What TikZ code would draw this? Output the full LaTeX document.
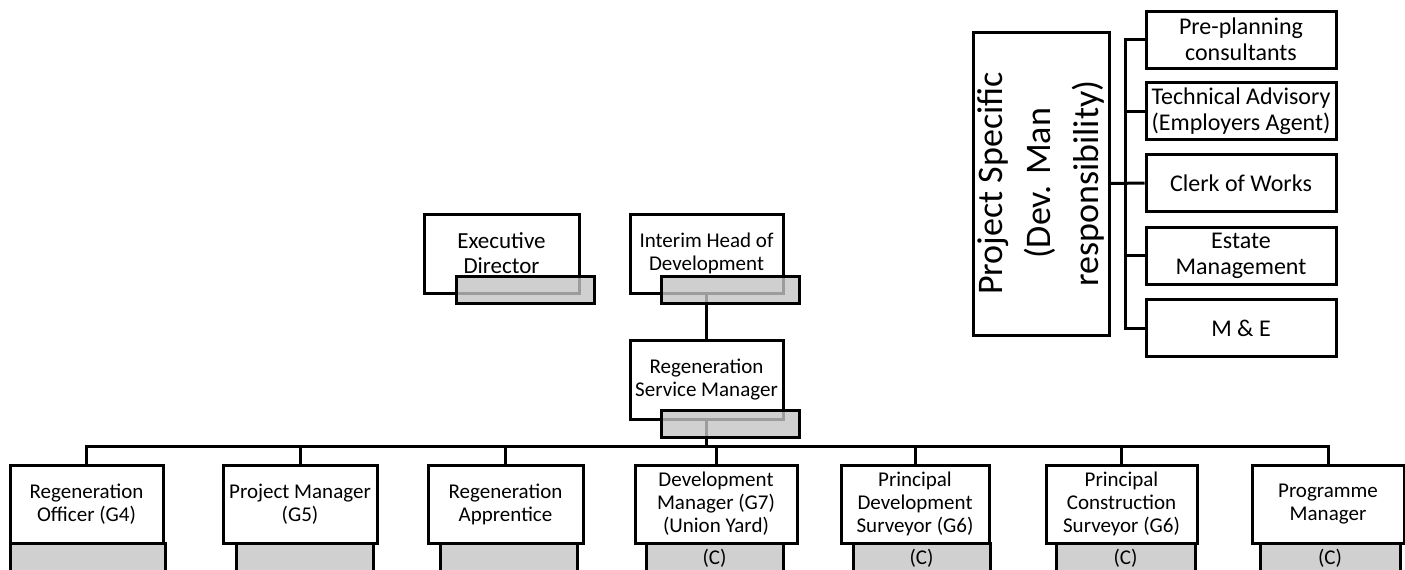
\documentclass[tikz,border=0pt]{standalone}
\usepackage{fontspec}
\setmainfont{Carlito}
\definecolor{slot}{RGB}{196,196,196}
\begin{document}
\begin{tikzpicture}[x=1pt, y=-1pt, line width=3pt,
  every node/.style={draw=black, line width=3pt, inner sep=2pt, align=center, font=\fontsize{21}{23}\selectfont},
  post/.style={fill=white, minimum height=79pt},
  tag/.style={fill=slot, fill opacity=0.8, text opacity=1, minimum height=27pt},
  side/.style={fill=white, minimum width=190pt, minimum height=57pt, font=\fontsize{24}{26}\selectfont}]
  \useasboundingbox (0,0) rectangle (1405,570);

  % top of the tree
  \node[post, minimum width=155pt, font=\fontsize{23}{25}\selectfont] (exec) at (501.5,253.5) {Executive\\Director};
  \node[post, minimum width=153pt] (head) at (706.5,253.5) {Interim Head of\\Development};
  \node[post, minimum width=153pt] (rsm) at (706.5,379.5) {Regeneration\\Service Manager};
  \draw (head) -- (rsm);
  \coordinate (bus) at (706.5,446);
  \draw (rsm.south) -- (bus);

  % team row
  \node[post, minimum width=153pt, minimum height=78pt] (b1) at (86.5,504) {Regeneration\\Officer (G4)};
  \node[post, minimum width=154pt, minimum height=78pt] (b2) at (300,504) {Project Manager\\(G5)};
  \node[post, minimum width=155pt, minimum height=78pt] (b3) at (505.5,504) {Regeneration\\Apprentice};
  \node[post, minimum width=162pt, minimum height=78pt] (b4) at (716,504) {Development\\Manager (G7)\\(Union Yard)};
  \node[post, minimum width=148pt, minimum height=78pt] (b5) at (915,504) {Principal\\Development\\Surveyor (G6)};
  \node[post, minimum width=151pt, minimum height=78pt] (b6) at (1121.5,504) {Principal\\Construction\\Surveyor (G6)};
  \node[post, minimum width=152pt, minimum height=78pt] (b7) at (1328,504) {Programme\\Manager};
  \draw (b1.north) |- (bus);
  \draw (b2.north) |- (bus);
  \draw (b3.north) |- (bus);
  \draw (b4.north) |- (bus);
  \draw (b5.north) |- (bus);
  \draw (b6.north) |- (bus);
  \draw (b7.north) |- (bus);

  \node[tag, minimum width=138pt] (texec) at (525,289.5) {};
  \node[tag, minimum width=138pt] (thead) at (730,289.5) {};
  \node[tag, minimum width=138pt] (trsm) at (730,423.5) {};
  \node[tag, minimum width=155pt, minimum height=30pt] (t1) at (87.5,558) {};
  \node[tag, minimum width=137pt, minimum height=30pt] (t2) at (304.5,558) {};
  \node[tag, minimum width=137pt, minimum height=30pt] (t3) at (508.5,558) {};
  \node[tag, minimum width=137pt, minimum height=30pt] (t4) at (714.5,558) {(C)};
  \node[tag, minimum width=137pt, minimum height=30pt] (t5) at (921.5,558) {(C)};
  \node[tag, minimum width=139pt, minimum height=30pt] (t6) at (1125.5,558) {(C)};
  \node[tag, minimum width=140pt, minimum height=30pt] (t7) at (1330,558) {(C)};

  % project specific group
  \node[fill=white, rotate=90, minimum width=303pt, minimum height=136pt, font=\fontsize{36}{48}\selectfont] (ps) at (1041,183.5) {Project Specific\\(Dev. Man\\responsibility)};
  \node[side] (pre) at (1241,39.5) {Pre-planning\\consultants};
  \node[side] (tech) at (1241,111) {Technical Advisory\\(Employers Agent)};
  \node[side] (clerk) at (1241,183) {Clerk of Works};
  \node[side] (estate) at (1241,255.5) {Estate\\Management};
  \node[side] (me) at (1241,328) {M \& E};
  \draw (pre.west) -- ++(-19,0) |- (me.west);
  \draw (tech.west) -- ++(-19,0);
  \draw (estate.west) -- ++(-19,0);
  \draw (ps.south) -- (clerk.west);
\end{tikzpicture}
\end{document}
